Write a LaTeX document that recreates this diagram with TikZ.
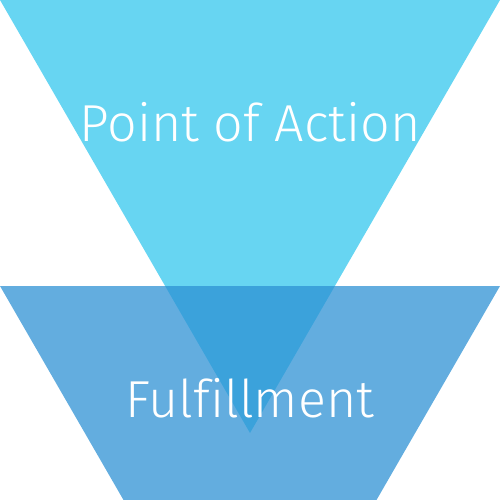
\documentclass[tikz,border=0pt]{standalone}
\usepackage{fontspec}
\usepackage{xcolor}
\usepackage{tikz}
\newfontfamily\lightfont[Ligatures=NoCommon]{Fira Sans Light}
\definecolor{actioncol}{RGB}{103,213,242}
\definecolor{fulfilcol}{RGB}{44,145,212}

\begin{document}
\begin{tikzpicture}[x=1pt, y=-1pt,
    stagetext/.style={text=white, anchor=base,
      font=\lightfont\fontsize{52}{60}\selectfont}]
  \useasboundingbox (0,0) rectangle (500,500);
  % upper funnel stage
  \fill[actioncol] (0,0) -- (500,0) -- (250,433) -- cycle;
  % lower stage, see-through
  \fill[fulfilcol, opacity=0.74]
    (0,286) -- (500,286) -- (376.5,500) -- (123.5,500) -- cycle;
  \node[stagetext] (action) at (250,141) {Point of Action};
  \node[stagetext] (fulfil) at (250,417) {Fulfillment};
\end{tikzpicture}
\end{document}
